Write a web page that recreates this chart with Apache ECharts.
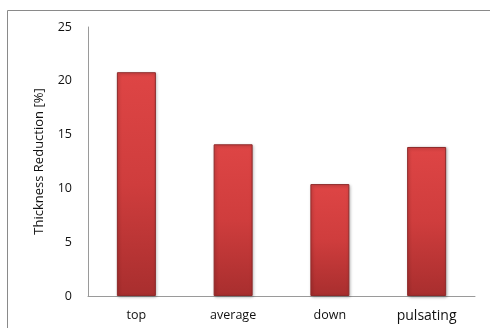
<!DOCTYPE html>
<html><head><meta charset="utf-8">
<script src="https://cdn.jsdelivr.net/npm/echarts@6/dist/echarts.min.js"></script>
<style>html,body{margin:0;padding:0;background:#fff}#c{width:490px;height:328px}</style>
</head><body><div id="c"></div>
<script>
const categories = ['top', 'average', 'down', 'pulsating'];
const values = [20.8, 14.1, 10.4, 13.85];
const yTicks = [0, 5, 10, 15, 20, 25];
const yTitle = 'Thickness Reduction [%]';

const chart = echarts.init(document.getElementById('c'));
chart.setOption({
  animation: false,
  graphic: [{
    type: 'rect', shape: {x: 7.5, y: 10.5, width: 500, height: 340},
    style: {fill: 'none', stroke: '#8a8a8a', lineWidth: 1}, z: -1
  }],
  grid: {left: 88, right: 15, top: 27, bottom: 32, containLabel: false},
  xAxis: {
    type: 'category', data: categories,
    axisLine: {lineStyle: {color: '#9a9a9a'}},
    axisTick: {show: false},
    axisLabel: {
      interval: 0,
      color: '#111', fontFamily: 'Open Sans', fontSize: 12.5, margin: 13,
      rich: {big: {fontSize: 14, fontFamily: 'Open Sans', color: '#111', padding: [0,0,6,0]}},
      formatter: v => v === 'pulsating' ? '{big|' + v + '}' : v
    }
  },
  yAxis: {
    type: 'value', min: yTicks[0], max: yTicks[yTicks.length - 1], interval: 5,
    axisLine: {show: true, lineStyle: {color: '#9a9a9a'}},
    axisTick: {show: false},
    splitLine: {show: false},
    axisLabel: {color: '#111', fontFamily: 'Open Sans', fontSize: 12.5, margin: 16},
    name: yTitle, nameLocation: 'middle', nameGap: 42, nameRotate: 90,
    nameTextStyle: {color: '#111', fontFamily: 'Open Sans', fontSize: 13, fontWeight: 500}
  },
  series: [{
    type: 'bar', data: values, barWidth: 39,
    itemStyle: {
      color: new echarts.graphic.LinearGradient(0, 0, 0, 1, [
        {offset: 0, color: '#de4545'},
        {offset: 0.5, color: '#cf3d3d'},
        {offset: 1, color: '#a82e2e'}
      ]),
      borderColor: '#8e2a2a', borderWidth: 1,
      shadowColor: 'rgba(0,0,0,0.3)', shadowBlur: 3, shadowOffsetX: 1, shadowOffsetY: 1
    }
  }]
});
</script></body></html>
